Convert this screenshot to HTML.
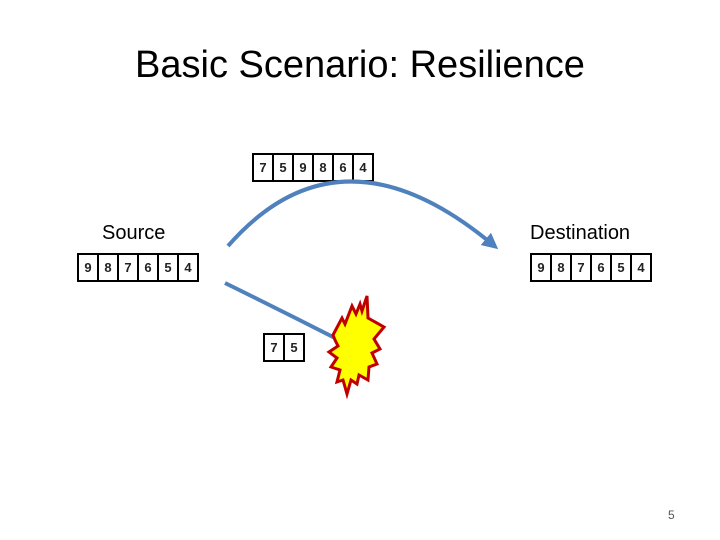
<!DOCTYPE html>
<html><head><style>
body{margin:0;width:720px;height:540px;background:#fff;position:relative;font-family:"Liberation Sans",sans-serif;overflow:hidden}
.t{position:absolute;white-space:nowrap}
.row{position:absolute;display:flex;border:2px solid #000;height:25px;box-sizing:content-box}
.row div{width:18px;border-right:2px solid #000;text-align:center;font-size:13px;line-height:25px;font-weight:bold;color:#222}
.row div:last-child{border-right:none}
</style></head><body>
<div class="t" style="left:0;width:720px;top:44px;text-align:center;font-size:38px;">Basic Scenario: Resilience</div>
<div class="t" style="left:102px;top:222px;font-size:20px;">Source</div>
<div class="t" style="left:530px;top:222px;font-size:20px;">Destination</div>
<div class="row" style="left:252px;top:153px"><div>7</div><div>5</div><div>9</div><div>8</div><div>6</div><div>4</div></div>
<div class="row" style="left:77px;top:253px"><div>9</div><div>8</div><div>7</div><div>6</div><div>5</div><div>4</div></div>
<div class="row" style="left:530px;top:253px"><div>9</div><div>8</div><div>7</div><div>6</div><div>5</div><div>4</div></div>
<div class="row" style="left:263px;top:333px"><div>7</div><div>5</div></div>
<svg width="720" height="540" style="position:absolute;left:0;top:0">
<defs><marker id="a" markerWidth="4" markerHeight="4" refX="2" refY="2" orient="auto"><path d="M0,0L4,2L0,4z" fill="#4f81bd"/></marker></defs>
<path d="M228,246 Q340,118 492,244" fill="none" stroke="#4f81bd" stroke-width="4" marker-end="url(#a)"/>
<path d="M225,283 Q280,310 335,338" fill="none" stroke="#4f81bd" stroke-width="4"/>
<polygon fill="#ffff00" stroke="#c00000" stroke-width="3" stroke-linejoin="miter" points="333,335 342,318 345,324 352,306 356,314 360,304 362,311 367,296 368,318 384,327 374,339 380,349 372,353 377,364 369,367 368,380 359,375 357,384 351,380 347,394 343,380 337,382 340,370 331,367 337,358 329,352 338,346 335,340"/>
</svg>
<div class="t" style="left:668px;top:508px;font-size:12px;color:#555">5</div>
</body></html>
